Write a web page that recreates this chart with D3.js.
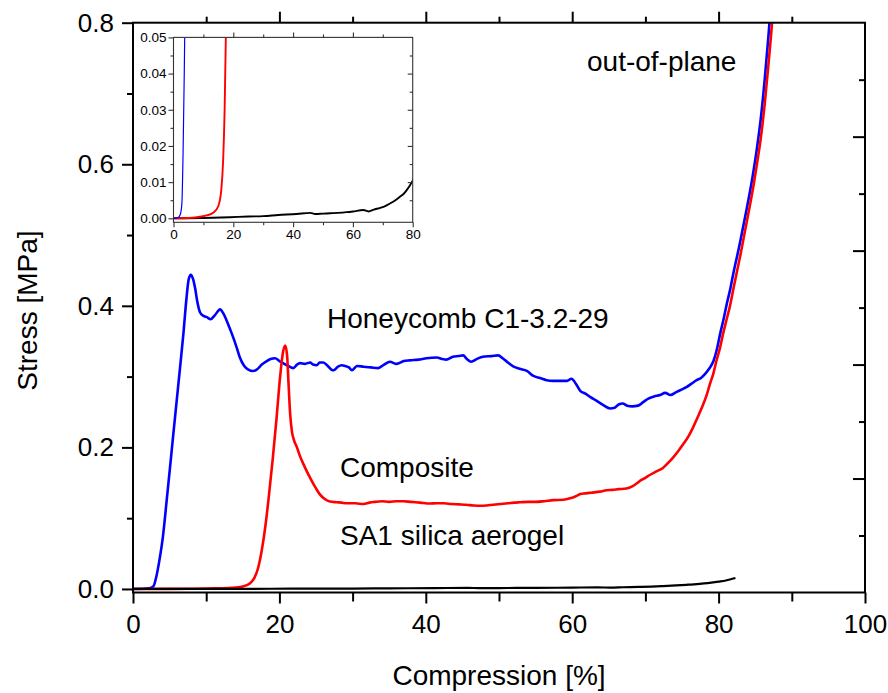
<!DOCTYPE html>
<html>
<head>
<meta charset="utf-8">
<script src="https://cdn.jsdelivr.net/npm/d3@7"></script>
<style>
  body { margin: 0; background: #fff; }
  svg { display: block; font-family: "Liberation Sans", Arial, sans-serif; }
  .axis path { display: none; }
  .axis line { stroke: #000; stroke-width: 2; }
  .inset .axis line { stroke: #333; stroke-width: 1.1; }
</style>
</head>
<body>
<svg width="888" height="693"></svg>
<script>
// stress-strain curves [compression %, stress MPa]
const honeycomb = [[0,0],[1.5,0.0002],[2.2,0.0009],[2.8,0.004],[3.2,0.018],[3.6,0.04],[4.1,0.075],[4.6,0.125],[5.05,0.171],[5.5,0.218],[5.97,0.266],[6.4,0.31],[6.88,0.36],[7.3,0.41],[7.6,0.437],[7.9,0.444],[8.2,0.438],[8.5,0.424],[8.8,0.405],[9.15,0.391],[9.6,0.386],[10.1,0.384],[10.6,0.381],[11.2,0.387],[11.9,0.395],[12.3,0.39],[12.8,0.379],[13.3,0.366],[13.7,0.355],[14.2,0.34],[14.6,0.327],[15.2,0.315],[15.75,0.31],[16.4,0.308],[16.9,0.31],[17.6,0.317],[18.3,0.322],[18.8,0.325],[19.4,0.326],[20.0,0.322],[20.5,0.319],[21.2,0.315],[21.9,0.312],[22.4,0.317],[22.8,0.319],[23.5,0.318],[24.2,0.32],[24.6,0.317],[25.1,0.316],[25.5,0.32],[26.0,0.32],[26.6,0.315],[27.1,0.31],[27.4,0.309],[28.0,0.314],[28.5,0.316],[29.0,0.315],[29.5,0.313],[29.9,0.309],[30.6,0.315],[31.5,0.314],[32.5,0.313],[33.5,0.312],[34.3,0.317],[35.1,0.321],[36.0,0.318],[37.0,0.322],[37.8,0.323],[39.0,0.324],[40.1,0.326],[41.5,0.327],[42.2,0.325],[42.8,0.324],[43.7,0.328],[44.5,0.329],[45.1,0.33],[45.6,0.325],[46.2,0.321],[47.0,0.325],[47.8,0.328],[49.0,0.329],[49.9,0.33],[50.5,0.326],[51.2,0.32],[52.0,0.314],[52.8,0.311],[53.8,0.308],[54.7,0.301],[55.6,0.298],[56.5,0.295],[57.4,0.294],[58.5,0.294],[59.3,0.294],[59.9,0.297],[60.5,0.29],[61.1,0.28],[61.8,0.276],[62.5,0.271],[63.3,0.266],[64.2,0.26],[65.2,0.255],[65.8,0.256],[66.4,0.261],[66.9,0.262],[67.5,0.259],[68.2,0.258],[69.0,0.259],[69.7,0.264],[70.4,0.269],[71.2,0.272],[72.0,0.274],[72.7,0.277],[73.4,0.274],[74.2,0.278],[75.0,0.282],[75.6,0.285],[76.3,0.29],[77.0,0.295],[77.6,0.298],[78.1,0.303],[78.7,0.311],[79.3,0.322],[79.8,0.34],[80.2,0.36],[80.7,0.382],[81.1,0.402],[81.6,0.424],[82.0,0.445],[82.9,0.488],[83.8,0.535],[84.6,0.58],[85.2,0.62],[85.8,0.668],[86.3,0.72],[86.8,0.78],[87.1,0.82]];

const composite = [[0,0],[5,0.0001],[7.8,0.0003],[11.1,0.0008],[13.4,0.0016],[15.0,0.0034],[16.0,0.008],[16.6,0.016],[17.1,0.03],[17.6,0.055],[18.1,0.09],[18.6,0.135],[19.1,0.185],[19.6,0.24],[20.1,0.3],[20.5,0.335],[20.8,0.344],[21.05,0.33],[21.25,0.29],[21.45,0.25],[21.7,0.223],[22.0,0.21],[22.4,0.2],[22.8,0.188],[23.3,0.176],[23.8,0.165],[24.4,0.153],[25.0,0.142],[25.5,0.134],[26.2,0.127],[26.9,0.1235],[27.8,0.1225],[28.5,0.122],[29.2,0.121],[30.4,0.121],[31.5,0.12],[32.3,0.122],[33.0,0.123],[34.0,0.124],[35.0,0.123],[36.0,0.124],[36.9,0.124],[38.0,0.123],[39.2,0.122],[40.6,0.1207],[41.5,0.121],[42.5,0.121],[43.5,0.12],[44.5,0.1195],[45.5,0.119],[46.5,0.118],[47.4,0.1175],[48.3,0.118],[49.2,0.119],[50.2,0.12],[51.2,0.121],[52.0,0.122],[52.9,0.1225],[54.0,0.123],[55.0,0.123],[56.2,0.124],[57.4,0.1255],[58.8,0.126],[59.7,0.128],[60.5,0.131],[61.1,0.134],[61.8,0.135],[62.6,0.136],[63.8,0.1375],[64.7,0.1395],[65.5,0.14],[66.3,0.141],[67.4,0.142],[68.2,0.145],[68.8,0.149],[69.3,0.153],[70.0,0.157],[70.6,0.161],[71.5,0.166],[72.4,0.171],[73.1,0.178],[73.8,0.186],[74.5,0.195],[75.2,0.205],[75.9,0.216],[76.5,0.228],[77.2,0.244],[77.9,0.261],[78.4,0.275],[78.8,0.289],[79.3,0.305],[79.7,0.322],[80.2,0.341],[80.6,0.36],[81.1,0.381],[81.6,0.402],[82.0,0.423],[82.5,0.448],[83.0,0.473],[83.5,0.5],[84.0,0.527],[84.6,0.56],[85.2,0.598],[85.7,0.632],[86.3,0.685],[86.8,0.74],[87.3,0.8],[87.5,0.83]];

const aerogel = [[0,0],[2.2,0],[10,0.0001],[18.9,0.0003],[25,0.0005],[30,0.0006],[35,0.0009],[41.2,0.0012],[45.7,0.0015],[47.4,0.0012],[50,0.0013],[52.4,0.0014],[55,0.0015],[57.9,0.0017],[60,0.0019],[63.5,0.0023],[65.2,0.0019],[67,0.0024],[69.1,0.0029],[70.8,0.0034],[72.4,0.0041],[74.2,0.005],[75.8,0.006],[77,0.0068],[78,0.0078],[79,0.009],[80,0.0104],[81,0.012],[82.3,0.0155]];

const series = [
  { name: "honeycomb", data: honeycomb, color: "#0000ff" },
  { name: "composite", data: composite, color: "#ff0000" },
  { name: "aerogel", data: aerogel, color: "#000000" }
];

// tick values
const xMajor = [0, 20, 40, 60, 80, 100];
const xMinor = [10, 30, 50, 70, 90];
const yMajor = [0, 0.2, 0.4, 0.6, 0.8];
const yMinor = [0.1, 0.3, 0.5, 0.7];
const rightMajor = [0.2, 0.4, 0.6, 0.8];
const rightMinor = [0.1, 0.3, 0.5, 0.7, 0.9];
const insetXMajor = [0, 20, 40, 60, 80];
const insetXMinor = [10, 30, 50, 70];
const insetYMajor = [0, 0.01, 0.02, 0.03, 0.04, 0.05];
const insetYMinor = [0.005, 0.015, 0.025, 0.035, 0.045];

const labels = [
  { text: "out-of-plane", x: 587, y: 71 },
  { text: "Honeycomb C1-3.2-29", x: 327, y: 328 },
  { text: "Composite", x: 340, y: 477 },
  { text: "SA1 silica aerogel", x: 340, y: 545 }
];

// frame of the main plot
const frame = { left: 133, right: 865, top: 22.7, bottom: 592.5 };
const inset = { left: 173.5, right: 412.7, top: 37.4, bottom: 222.3 };

const svg = d3.select("svg");

const x = d3.scaleLinear().domain([0, 100]).range([frame.left, frame.right]);
const y = d3.scaleLinear().domain([-0.005, 0.8]).range([frame.bottom, frame.top]);
const yRight = d3.scaleLinear().domain([0, 1]).range([frame.bottom, frame.top]);

svg.append("defs").append("clipPath").attr("id", "clipMain")
  .append("rect")
  .attr("x", frame.left).attr("y", frame.top)
  .attr("width", frame.right - frame.left).attr("height", frame.bottom - frame.top);

const line = d3.line().curve(d3.curveMonotoneX).x(d => x(d[0])).y(d => y(d[1]));

svg.append("g").attr("clip-path", "url(#clipMain)")
  .selectAll("path")
  .data(series)
  .enter().append("path")
  .attr("d", d => line(d.data))
  .attr("fill", "none")
  .attr("stroke", d => d.color)
  .attr("stroke-width", d => d.name == "aerogel" ? 2.2 : 2.6)
  .attr("stroke-linejoin", "round");

// axes (ticks only, frame drawn as a rect)
function addAxis(parent, axis, tx, ty) {
  return parent.append("g").attr("class", "axis")
    .attr("transform", `translate(${tx},${ty})`)
    .call(axis);
}

addAxis(svg, d3.axisBottom(x).tickValues(xMajor).tickSize(11).tickPadding(11).tickFormat(d3.format("d")), 0, frame.bottom);
addAxis(svg, d3.axisBottom(x).tickValues(xMinor).tickSize(9).tickFormat(""), 0, frame.bottom);
addAxis(svg, d3.axisBottom(x).tickValues(xMajor.slice(1, -1)).tickSize(-11).tickFormat(""), 0, frame.top);
addAxis(svg, d3.axisBottom(x).tickValues(xMinor).tickSize(-6).tickFormat(""), 0, frame.top);

addAxis(svg, d3.axisLeft(y).tickValues(yMajor).tickSize(11).tickPadding(8).tickFormat(d3.format(".1f")), frame.left, 0);
addAxis(svg, d3.axisLeft(y).tickValues(yMinor).tickSize(6).tickFormat(""), frame.left, 0);
addAxis(svg, d3.axisRight(yRight).tickValues(rightMajor).tickSize(-12).tickFormat(""), frame.right, 0);
addAxis(svg, d3.axisRight(yRight).tickValues(rightMinor).tickSize(-6).tickFormat(""), frame.right, 0);

svg.selectAll(".axis text").attr("font-size", 26).attr("fill", "#000")
  .attr("font-family", "'Liberation Sans', Arial, sans-serif");

svg.append("rect")
  .attr("x", frame.left).attr("y", frame.top)
  .attr("width", frame.right - frame.left).attr("height", frame.bottom - frame.top)
  .attr("fill", "none").attr("stroke", "#000").attr("stroke-width", 2);

// axis titles
svg.append("text")
  .text("Compression [%]")
  .attr("x", (frame.left + frame.right) / 2).attr("y", 685)
  .attr("text-anchor", "middle").attr("font-size", 28);

svg.append("text")
  .text("Stress [MPa]")
  .attr("transform", `translate(37, ${(frame.top + frame.bottom) / 2 + 3}) rotate(-90)`)
  .attr("text-anchor", "middle").attr("font-size", 28);

svg.append("g").selectAll("text")
  .data(labels)
  .enter().append("text")
  .text(d => d.text)
  .attr("x", d => d.x).attr("y", d => d.y)
  .attr("font-size", 28);

// inset, zoom on low stresses
const ix = d3.scaleLinear().domain([0, 80]).range([inset.left, inset.right]);
const iy = d3.scaleLinear().domain([-0.0011, 0.05]).range([inset.bottom, inset.top]);

const ig = svg.append("g").attr("class", "inset");

ig.append("rect")
  .attr("x", inset.left).attr("y", inset.top)
  .attr("width", inset.right - inset.left).attr("height", inset.bottom - inset.top)
  .attr("fill", "#fff");

svg.select("defs").append("clipPath").attr("id", "clipInset")
  .append("rect")
  .attr("x", inset.left).attr("y", inset.top)
  .attr("width", inset.right - inset.left).attr("height", inset.bottom - inset.top);

const iline = d3.line().curve(d3.curveMonotoneX).x(d => ix(d[0])).y(d => iy(d[1]));

ig.append("g").attr("clip-path", "url(#clipInset)")
  .selectAll("path")
  .data(series.slice().reverse())
  .enter().append("path")
  .attr("d", d => iline(d.data))
  .attr("fill", "none")
  .attr("stroke", d => d.color)
  .attr("stroke-width", d => d.name == "honeycomb" ? 1.2 : 1.9);

addAxis(ig, d3.axisBottom(ix).tickValues(insetXMajor).tickSize(5).tickPadding(2).tickFormat(d3.format("d")), 0, inset.bottom);
addAxis(ig, d3.axisBottom(ix).tickValues(insetXMinor).tickSize(3).tickFormat(""), 0, inset.bottom);
addAxis(ig, d3.axisBottom(ix).tickValues(insetXMajor.slice(1, -1)).tickSize(-5).tickFormat(""), 0, inset.top);
addAxis(ig, d3.axisBottom(ix).tickValues(insetXMinor).tickSize(-3).tickFormat(""), 0, inset.top);
addAxis(ig, d3.axisLeft(iy).tickValues(insetYMajor).tickSize(5).tickPadding(2).tickFormat(d3.format(".2f")), inset.left, 0);
addAxis(ig, d3.axisLeft(iy).tickValues(insetYMinor).tickSize(3).tickFormat(""), inset.left, 0);
addAxis(ig, d3.axisRight(iy).tickValues(insetYMajor.slice(1, -1)).tickSize(-5).tickFormat(""), inset.right, 0);
addAxis(ig, d3.axisRight(iy).tickValues(insetYMinor).tickSize(-3).tickFormat(""), inset.right, 0);

ig.selectAll(".axis text").attr("font-size", 13.5).attr("fill", "#000")
  .attr("font-family", "'Liberation Sans', Arial, sans-serif");

ig.append("rect")
  .attr("x", inset.left).attr("y", inset.top)
  .attr("width", inset.right - inset.left).attr("height", inset.bottom - inset.top)
  .attr("fill", "none").attr("stroke", "#333").attr("stroke-width", 1.1);
</script>
</body>
</html>
